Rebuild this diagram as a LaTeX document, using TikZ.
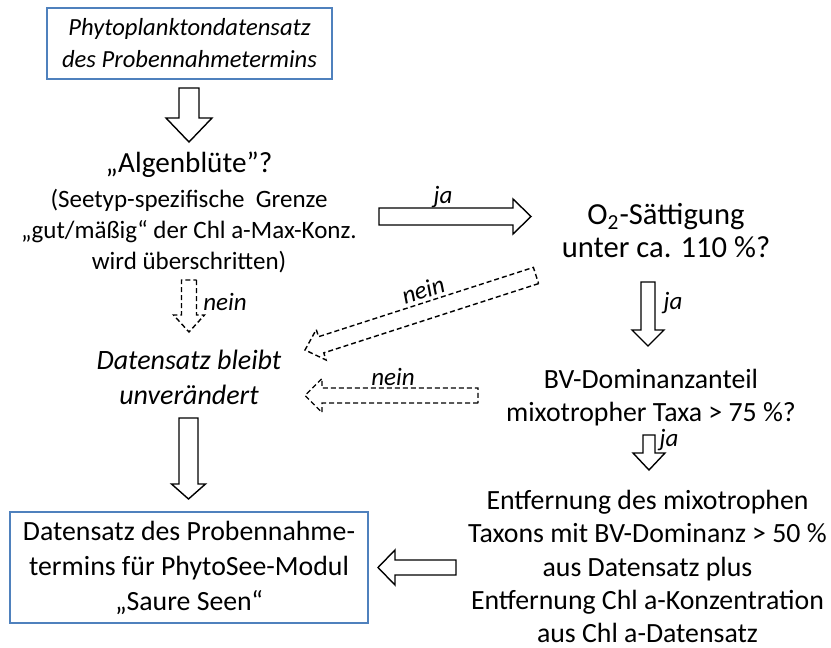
\documentclass[tikz,border=0pt]{standalone}
\usepackage{fontspec}
\setmainfont{Carlito}
\usetikzlibrary{calc,positioning}
\definecolor{boxblue}{RGB}{79,129,189}

\tikzset{
	shaftw/.store in=\bashaft, headw/.store in=\bahead, headl/.store in=\balen,
	shaftw=4pt, headw=8pt, headl=8pt,
	blockarrow/.style={draw, line width=0.7pt, line join=miter, fill=white, to path={
		($(\tikztostart)!\bashaft!90:(\tikztotarget)$)
		-- ($($(\tikztotarget)!\balen!(\tikztostart)$)!\bashaft!-90:(\tikztostart)$)
		-- ($($(\tikztotarget)!\balen!(\tikztostart)$)!\bahead!-90:(\tikztostart)$)
		-- (\tikztotarget)
		-- ($($(\tikztotarget)!\balen!(\tikztostart)$)!\bahead!90:(\tikztostart)$)
		-- ($($(\tikztotarget)!\balen!(\tikztostart)$)!\bashaft!90:(\tikztostart)$)
		-- ($(\tikztostart)!\bashaft!-90:(\tikztotarget)$) -- cycle}},
	dasharrow/.style={blockarrow, dash pattern=on 2.5pt off 1.5pt},
}

\begin{document}
\begin{tikzpicture}[x=0.5pt,y=-0.5pt,
	box/.style={draw=boxblue, line width=0.8pt, align=center, inner sep=0pt},
	txt/.style={align=center, font=\fontsize{13.9}{16.7}\selectfont},
	lbl/.style={font=\fontsize{12.5}{14}\selectfont\itshape, inner sep=1pt}]
	\useasboundingbox (0,0) rectangle (831,648);
	% left column
	\node[box, minimum width=142.5pt, minimum height=35.5pt, font=\fontsize{12.3}{16}\selectfont\itshape] (probe) at (189.5,43.5) {Phytoplanktondatensatz\\des Probennahmetermins};
	\node[font=\fontsize{14.6}{18}\selectfont] (bluete) at (189,165) {„Algenblüte”?};
	\node[align=center, font=\fontsize{12.5}{15.5}\selectfont] (grenze) at (189,231) {(Seetyp-spezifische~ Grenze\\„gut/mäßig“ der Chl a-Max-Konz.\\wird überschritten)};
	\node[txt, font=\fontsize{14}{17.5}\selectfont\itshape] (bleibt) at (189,377) {Datensatz bleibt\\unverändert};
	\node[box, minimum width=179pt, minimum height=55.5pt, font=\fontsize{13.9}{17.5}\selectfont] (modul) at (189,567.5) {Datensatz des Probennahme-\\termins für PhytoSee-Modul\\„Saure Seen“};
	% right column
	\node[txt, font=\fontsize{15.3}{16.5}\selectfont] (sauer) at (666,231) {O\textsubscript{2}-Sättigung\\unter ca. 110 \%?};
	\node[txt, font=\fontsize{13.9}{16.5}\selectfont] (bv) at (651,397.5) {BV-Dominanzanteil\\mixotropher Taxa > 75 \%?};
	\node[txt] (entf) at (647.5,566.5) {Entfernung des mixotrophen\\Taxons mit BV-Dominanz > 50 \%\\aus Datensatz plus\\Entfernung Chl a-Konzentration\\aus Chl a-Datensatz};
	% arrow ends
	\coordinate (a1) at (189,88);   \coordinate (a2) at (189,142);
	\coordinate (b1) at (189,280);  \coordinate (b2) at (189,332);
	\coordinate (c1) at (188.5,418); \coordinate (c2) at (188.5,499);
	\coordinate (d1) at (379,216.5); \coordinate (d2) at (531,216.5);
	\coordinate (e1) at (648,282);  \coordinate (e2) at (648,346);
	\coordinate (f1) at (536,275.5); \coordinate (f2) at (305,350);
	\coordinate (g1) at (478,395.5); \coordinate (g2) at (305,395.5);
	\coordinate (h1) at (649,435);  \coordinate (h2) at (649,470);
	\coordinate (k1) at (456,567.5); \coordinate (k2) at (378,567.5);
	\draw[blockarrow, shaftw=5pt, headw=11.5pt, headl=12pt] (a1) to (a2);
	\draw[dasharrow, shaftw=3.75pt, headw=7.75pt, headl=8.5pt] (b1) to (b2);
	\draw[blockarrow, shaftw=4.75pt, headw=8.5pt, headl=7.5pt] (c1) to (c2);
	\draw[blockarrow, shaftw=4.25pt, headw=8.75pt, headl=9pt] (d1) to (d2);
	\draw[blockarrow, shaftw=3.5pt, headw=8pt, headl=8pt] (e1) to (e2);
	\draw[dasharrow, shaftw=4.25pt, headw=8pt, headl=8.5pt] (f1) to (f2);
	\draw[dasharrow, shaftw=3.75pt, headw=8.5pt, headl=8.5pt] (g1) to (g2);
	\draw[blockarrow, shaftw=3pt, headw=8pt, headl=8.5pt] (h1) to (h2);
	\draw[blockarrow, shaftw=3.75pt, headw=8.75pt, headl=8.5pt] (k1) to (k2);
	% labels
	\node[lbl] (ja1) at (443,197) {ja};
	\node[lbl] (nein1) at (225,302) {nein};
	\node[lbl] (ja2) at (673,303) {ja};
	\node[lbl, rotate=18] (nein2) at (423,290) {nein};
	\node[lbl] (nein3) at (393,377) {nein};
	\node[lbl] (ja3) at (669,440) {ja};
\end{tikzpicture}
\end{document}
